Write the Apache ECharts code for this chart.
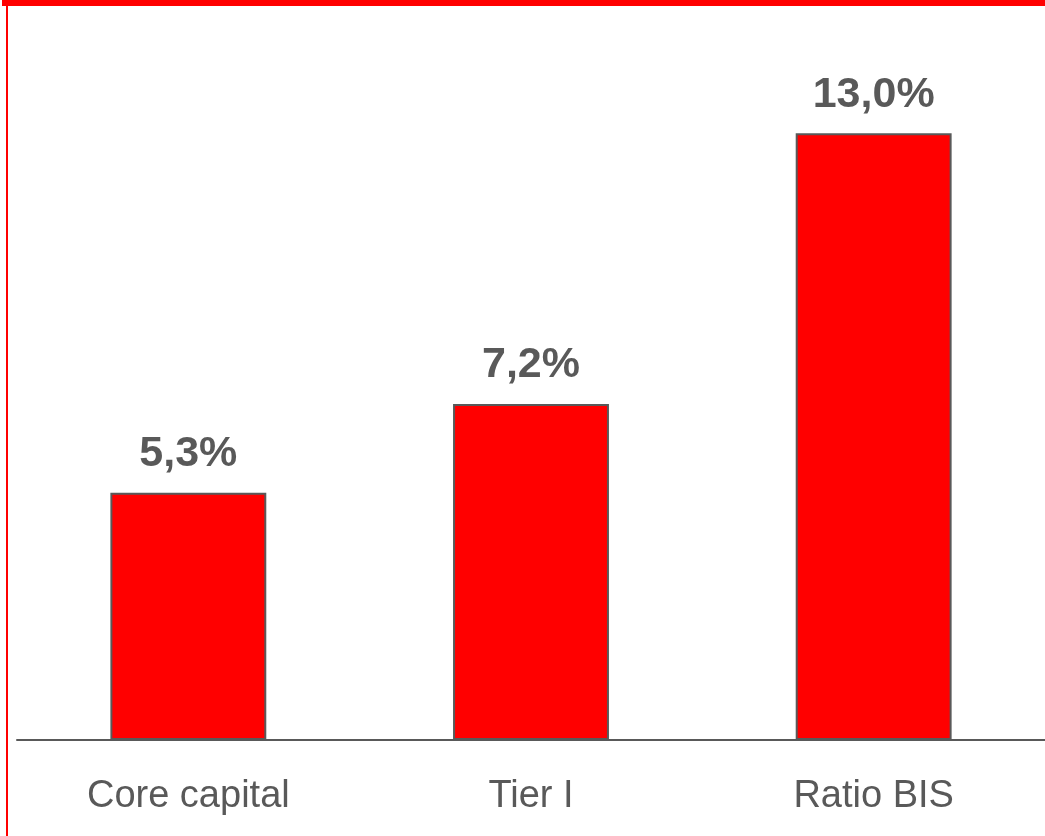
<!DOCTYPE html>
<html>
<head>
<meta charset="utf-8">
<script src="https://cdn.jsdelivr.net/npm/echarts@6/dist/echarts.min.js"></script>
<style>
html,body{margin:0;padding:0;background:#fff;}
#c{width:1045px;height:836px;}
</style>
</head>
<body>
<div id="c"></div>
<script>
const categories = ['Core capital', 'Tier I', 'Ratio BIS'];
const values = [5.3, 7.2, 13.0];
const valueLabels = ['5,3%', '7,2%', '13,0%'];

const chart = echarts.init(document.getElementById('c'), null, {renderer: 'canvas'});
chart.setOption({
  animation: false,
  backgroundColor: '#fff',
  grid: {left: 17, right: 0, top: 40, bottom: 96, containLabel: false},
  xAxis: {
    type: 'category',
    data: categories,
    axisLine: {show: true, lineStyle: {color: '#595959', width: 2}},
    axisTick: {show: false},
    axisLabel: {color: '#595959', fontSize: 38, fontFamily: 'Liberation Sans, Arial, sans-serif', margin: 38}
  },
  yAxis: {
    type: 'value',
    min: 0, max: 15,
    show: false,
    splitLine: {show: false}
  },
  series: [{
    type: 'bar',
    data: values,
    barWidth: '45.5%',
    itemStyle: {color: '#FF0000', borderColor: '#595959', borderWidth: 2},
    label: {
      show: true,
      position: 'top',
      distance: 17,
      formatter: p => valueLabels[p.dataIndex],
      color: '#595959',
      fontSize: 43,
      fontWeight: 'bold',
      fontFamily: 'Liberation Sans, Arial, sans-serif'
    }
  }],
  graphic: [
    {type: 'rect', shape: {x: 2, y: 0, width: 1043, height: 6}, style: {fill: '#FF0000'}},
    {type: 'rect', shape: {x: 6, y: 6, width: 2, height: 830}, style: {fill: '#FF0000'}}
  ]
});
</script>
</body>
</html>
